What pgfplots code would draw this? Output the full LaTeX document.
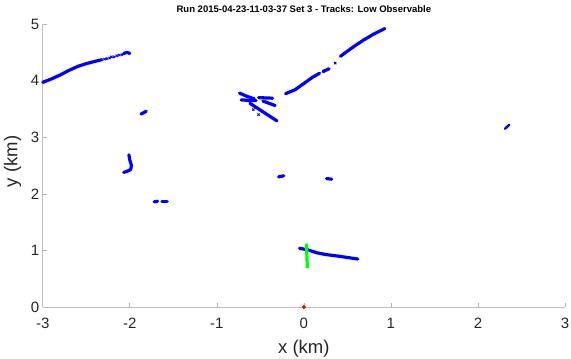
\documentclass[border=0pt]{standalone}
\usepackage{fontspec}
\setmainfont{Liberation Sans}
\usepackage{pgfplots}
\pgfplotsset{compat=1.18}
\begin{document}
\begin{tikzpicture}
\begin{axis}[
  scale only axis, width=522pt, height=283pt,
  xmin=-3, xmax=3, ymin=0, ymax=5,
  axis x line=bottom, axis y line=left,
  axis line style={-, draw=black!25, line width=0.8pt},
  xtick={-3,-2,-1,0,1,2,3}, xticklabels={-3,-2,-1,0,1,2,3},
  ytick={0,1,2,3,4,5}, yticklabels={0,1,2,3,4,5},
  tick align=inside, major tick length=4pt,
  tick style={draw=black!30, line width=0.6pt},
  ticklabel style={font=\fontsize{15}{15}\selectfont, text=black!85},
  xticklabel style={yshift=-7pt},
  xlabel={x (km)}, ylabel={y (km)},
  label style={font=\fontsize{18.5}{18.5}\selectfont, text=black!85},
  xlabel style={at={(axis description cs:0.5,-0.148)}, anchor=center},
  ylabel style={at={(axis description cs:-0.0575,0.515)}, anchor=center},
  title={Run 2015-04-23-11-03-37 Set 3 - Tracks: Low Observable},
  title style={font=\fontsize{9.5}{9.5}\selectfont\bfseries, at={(axis description cs:0.5,1.03)}, anchor=center},
  clip=false,
]
\pgfplotsset{trk/.style={blue, line width=3.2pt, line cap=round, line join=round, mark=none}}
\pgfplotsset{trm/.style={blue, only marks, mark=x, mark size=1.6pt, line width=0.9pt}}
\coordinate (sw) at (rel axis cs:0,0);
\coordinate (ne) at (rel axis cs:1,1);
% track 1
\addplot[trk] coordinates {(-3.0,3.97) (-2.9,4.03) (-2.8,4.10) (-2.7,4.18) (-2.6,4.25) (-2.5,4.30) (-2.4,4.34) (-2.32,4.37)};
\addplot[trm] coordinates {(-2.29,4.38) (-2.26,4.39) (-2.23,4.40) (-2.21,4.42) (-2.18,4.42) (-2.15,4.44) (-2.12,4.45) (-2.09,4.46)};
\addplot[trk] coordinates {(-2.07,4.48) (-2.03,4.50) (-2.0,4.48)};
% track 2
\addplot[trk] coordinates {(-1.87,3.41) (-1.81,3.46)};
% track 3
\addplot[trk] coordinates {(-0.21,3.77) (-0.1,3.84) (0.0,3.95) (0.1,4.06) (0.18,4.13)};
\addplot[trk] coordinates {(0.22,4.16) (0.29,4.21)};
\addplot[trm] coordinates {(0.36,4.31)};
\addplot[trk] coordinates {(0.42,4.43) (0.5,4.52) (0.6,4.63) (0.7,4.73) (0.8,4.82) (0.93,4.92)};
% track 4 cluster
\addplot[trk] coordinates {(-0.74,3.78) (-0.65,3.72) (-0.57,3.68)};
\addplot[trk] coordinates {(-0.72,3.66) (-0.62,3.65) (-0.55,3.65)};
\addplot[trk] coordinates {(-0.62,3.60) (-0.5,3.48) (-0.4,3.38) (-0.31,3.29)};
\addplot[trk] coordinates {(-0.52,3.70) (-0.36,3.69)};
\addplot[trk] coordinates {(-0.47,3.64) (-0.4,3.60) (-0.33,3.56)};
\addplot[trm] coordinates {(-0.58,3.49) (-0.52,3.40)};
% track 5
\addplot[trk] coordinates {(-2.01,2.69) (-2.0,2.60) (-1.98,2.50) (-1.99,2.43) (-2.03,2.40) (-2.07,2.38)};
% track 6
\addplot[trk] coordinates {(-1.72,1.86) (-1.68,1.87)};
\addplot[trk] coordinates {(-1.63,1.87) (-1.57,1.87)};
% track 7, 8
\addplot[trk] coordinates {(-0.29,2.30) (-0.23,2.32)};
\addplot[trk] coordinates {(0.26,2.27) (0.32,2.26)};
% track 9
\addplot[trk] coordinates {(-0.05,1.04) (0.05,1.01) (0.15,0.96) (0.25,0.93) (0.4,0.90) (0.62,0.85)};
% track 10
\addplot[trk, line width=2.4pt] coordinates {(2.31,3.15) (2.36,3.22)};
% green
\addplot[green, line width=3.2pt] coordinates {(0.03,1.12) (0.04,0.69)};
% red origin
\addplot[red, only marks, mark=*, mark size=1.8pt] coordinates {(0,0)};
\end{axis}
\pgfresetboundingbox
\path[use as bounding box] ([xshift=-42.7pt,yshift=-51pt]sw) rectangle ([xshift=6pt,yshift=24pt]ne);
\end{tikzpicture}
\end{document}
